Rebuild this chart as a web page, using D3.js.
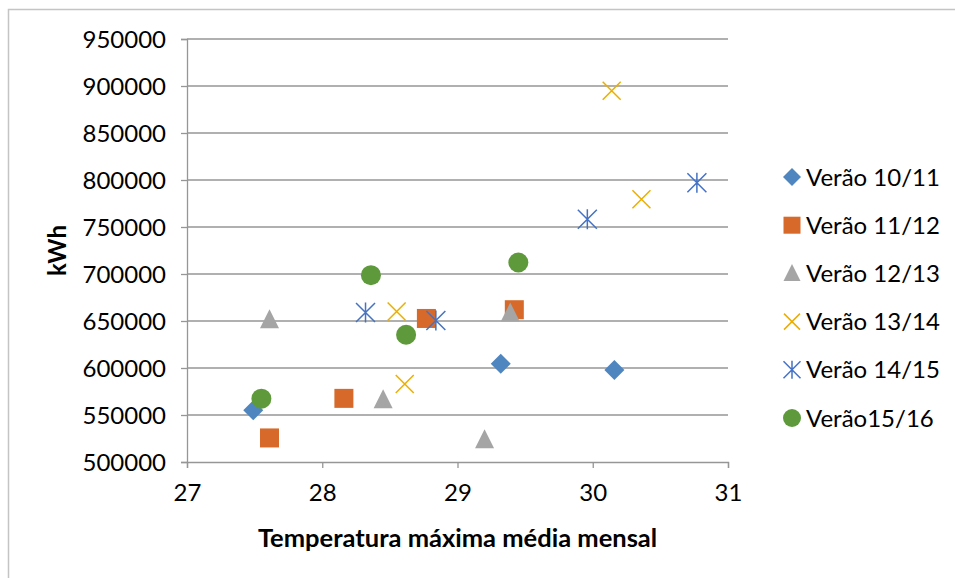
<!DOCTYPE html>
<html>
<head>
<meta charset="utf-8">
<script src="https://cdn.jsdelivr.net/npm/d3@7/dist/d3.min.js"></script>
<style>
  body { margin: 0; background: #fff; }
  text { font-family: Lato, "Open Sans", sans-serif; fill: #000; }
</style>
</head>
<body>
<div id="chart-area"></div>
<script>

// series names, colours and marker shapes
var seriesNames = ["Verão 10/11", "Verão 11/12", "Verão 12/13", "Verão 13/14", "Verão 14/15", "Verão15/16"];
var seriesColors = ["#4F86C0", "#D76A2A", "#A5A5A5", "#EBAE00", "#4472C4", "#5E9A3B"];
var seriesShapes = ["diamond", "square", "triangle", "cross", "star", "circle"];

// values (temperature, kWh)
var temp1011 = [27.49, 29.32, 30.16];
var kwh1011  = [555000, 604600, 597900];
var temp1112 = [27.61, 28.16, 28.77, 29.42];
var kwh1112  = [525600, 567700, 652700, 662000];
var temp1213 = [27.61, 28.45, 29.20, 29.39];
var kwh1213  = [651300, 566300, 523800, 658500];
var temp1314 = [28.55, 28.61, 30.14, 30.36];
var kwh1314  = [660100, 583000, 895000, 779600];
var temp1415 = [28.32, 28.84, 29.96, 30.77];
var kwh1415  = [659100, 650600, 758300, 797000];
var temp1516 = [27.55, 28.36, 28.62, 29.45];
var kwh1516  = [567400, 698800, 635400, 712200];

var xTicks = [27, 28, 29, 30, 31];
var yTicks = [500000, 550000, 600000, 650000, 700000, 750000, 800000, 850000, 900000, 950000];

var allTemps = [temp1011, temp1112, temp1213, temp1314, temp1415, temp1516];
var allKwh = [kwh1011, kwh1112, kwh1213, kwh1314, kwh1415, kwh1516];

var series = seriesNames.map(function(name, i) {
    return {
        name: name,
        color: seriesColors[i],
        shape: seriesShapes[i],
        points: allTemps[i].map(function(t, j) { return { t: t, k: allKwh[i][j] }; })
    };
});

var W = 955, H = 578;
var margin = { left: 187, right: 227, top: 39, bottom: 116 };
var width = W - margin.left - margin.right,
    height = H - margin.top - margin.bottom;

var svg = d3.select("#chart-area")
    .append("svg")
    .attr("width", W)
    .attr("height", H);

// outer chart frame
svg.append("rect")
    .attr("x", 8.5).attr("y", 9.5)
    .attr("width", 1000).attr("height", 1000)
    .attr("fill", "none")
    .attr("stroke", "#c4c4c4")
    .attr("stroke-width", 1.5);

var g = svg.append("g")
    .attr("transform", "translate(" + margin.left + "," + margin.top + ")");

var x = d3.scaleLinear().domain([27, 31]).range([0, width]);
var y = d3.scaleLinear().domain([500000, 950000]).range([height, 0]);

// gridlines
g.append("g").selectAll("line")
    .data(yTicks.slice(1))
    .enter().append("line")
    .attr("x1", 0).attr("x2", width)
    .attr("y1", function(d) { return y(d); })
    .attr("y2", function(d) { return y(d); })
    .attr("stroke", "#969696")
    .attr("stroke-width", 1.3);

// axes
var yAxis = g.append("g")
    .call(d3.axisLeft(y).tickValues(yTicks).tickSize(6).tickPadding(15).tickFormat(d3.format("d")));
var xAxis = g.append("g")
    .attr("transform", "translate(0," + height + ")")
    .call(d3.axisBottom(x).tickValues(xTicks).tickSize(6).tickPadding(16).tickFormat(d3.format("d")));

[xAxis, yAxis].forEach(function(a) {
    a.select(".domain").attr("stroke", "#969696").attr("stroke-width", 1.3);
    a.selectAll(".tick line").attr("stroke", "#969696").attr("stroke-width", 1.3);
    a.selectAll(".tick text").attr("font-size", "24px").attr("font-family", "Lato, sans-serif").attr("fill", "#000");
});
yAxis.selectAll(".tick text").attr("dy", "0.36em");

// axis titles
g.append("text")
    .attr("x", width / 2)
    .attr("y", height + 85)
    .attr("text-anchor", "middle")
    .attr("font-size", "25.5px")
    .attr("font-weight", "bold")
    .text("Temperatura máxima média mensal");

g.append("text")
    .attr("transform", "rotate(-90)")
    .attr("x", -height / 2)
    .attr("y", -121)
    .attr("text-anchor", "middle")
    .attr("font-size", "24px")
    .attr("font-weight", "bold")
    .text("kWh");

// marker drawing
function drawMarker(sel, shape, color, s) {
    var h = s / 2;
    if (shape == "diamond") {
        sel.append("path").attr("d", "M0," + (-h) + "L" + h + ",0L0," + h + "L" + (-h) + ",0Z").attr("fill", color);
    } else if (shape == "square") {
        sel.append("rect").attr("x", -h).attr("y", -h).attr("width", s).attr("height", s).attr("fill", color);
    } else if (shape == "triangle") {
        sel.append("path").attr("d", "M0," + (-h * 1.1) + "L" + h + "," + (h * 0.9) + "L" + (-h) + "," + (h * 0.9) + "Z").attr("fill", color);
    } else if (shape == "cross") {
        sel.append("path").attr("d", "M" + (-h) + "," + (-h) + "L" + h + "," + h + "M" + h + "," + (-h) + "L" + (-h) + "," + h)
            .attr("stroke", color).attr("stroke-width", 1.5).attr("fill", "none");
    } else if (shape == "star") {
        sel.append("path").attr("d", "M" + (-h) + "," + (-h) + "L" + h + "," + h + "M" + h + "," + (-h) + "L" + (-h) + "," + h + "M0," + (-h * 1.05) + "L0," + (h * 1.05))
            .attr("stroke", color).attr("stroke-width", 1.5).attr("fill", "none");
    } else {
        sel.append("circle").attr("r", h).attr("fill", color);
    }
}

// points
var sizes = { diamond: 20, square: 19, triangle: 19, cross: 18, star: 19, circle: 20 };
series.forEach(function(s) {
    g.append("g").selectAll("g")
        .data(s.points)
        .enter().append("g")
        .attr("transform", function(d) { return "translate(" + x(d.t) + "," + y(d.k) + ")"; })
        .each(function() { drawMarker(d3.select(this), s.shape, s.color, sizes[s.shape]); });
});

// legend
var legend = svg.append("g").attr("transform", "translate(792,177)");
series.forEach(function(s, i) {
    var item = legend.append("g").attr("transform", "translate(0," + (i * 48.2) + ")");
    drawMarker(item, s.shape, s.color, sizes[s.shape] - 2);
    item.append("text")
        .attr("x", 14)
        .attr("y", 0)
        .attr("dy", "0.36em")
        .attr("font-size", "24px")
        .text(s.name);
});

</script>
</body>
</html>
